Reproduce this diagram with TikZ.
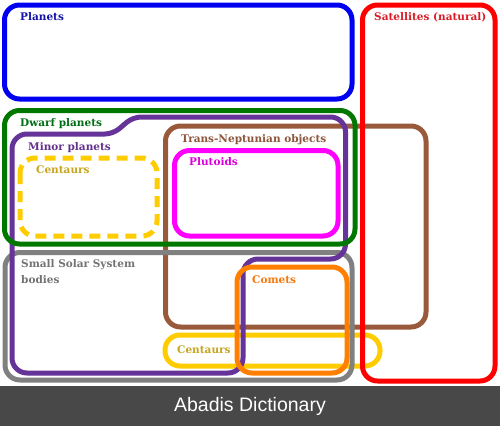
\documentclass[tikz,border=0pt]{standalone}
\usepackage{fontspec}
\setmainfont{DejaVu Serif}
\newfontfamily\bannerfont{Liberation Sans}
\definecolor{cBlue}{RGB}{0,0,240}
\definecolor{cBlueT}{RGB}{20,20,170}
\definecolor{cRed}{RGB}{255,0,0}
\definecolor{cRedT}{RGB}{215,30,40}
\definecolor{cGreen}{RGB}{0,120,0}
\definecolor{cGreenT}{RGB}{0,110,20}
\definecolor{cPurple}{RGB}{102,51,153}
\definecolor{cPurpleT}{RGB}{100,50,140}
\definecolor{cBrown}{RGB}{153,90,60}
\definecolor{cBrownT}{RGB}{140,85,60}
\definecolor{cMagenta}{RGB}{255,0,255}
\definecolor{cMagentaT}{RGB}{220,0,220}
\definecolor{cYellow}{RGB}{255,204,0}
\definecolor{cYellowT}{RGB}{200,165,30}
\definecolor{cOrange}{RGB}{255,128,0}
\definecolor{cOrangeT}{RGB}{245,120,10}
\definecolor{cGray}{RGB}{128,128,128}
\definecolor{cGrayT}{RGB}{115,115,115}
\definecolor{cBanner}{RGB}{72,72,72}
\begin{document}
\begin{tikzpicture}[x=1pt,y=-1pt,
  setbox/.style={line width=5pt,rounded corners=15pt},
  lbl/.style={anchor=base west,inner sep=0pt,font=\bfseries\fontsize{10.5}{13}\selectfont}]
\useasboundingbox (0,0) rectangle (500,426);
\fill[white] (0,0) rectangle (500,426);
% Trans-Neptunian objects
\draw[setbox,cBrown] (165.5,126) rectangle (426,327);
% Centaurs (pill)
\draw[setbox,cYellow] (165,335) rectangle (380,366);
% Small Solar System bodies
\draw[setbox,cGray] (5,252.5) rectangle (352,380);
% Minor planets
\draw[line width=5pt,cPurple,rounded corners=15pt] (12,134) [rounded corners=8pt] -- (113,134) -- (133,117) [rounded corners=15pt] -- (345.5,117) -- (345.5,259) -- (243,259) -- (243,373) -- (12,373) -- cycle;
% Comets
\draw[setbox,cOrange] (237,267) rectangle (347,373);
% Dwarf planets
\draw[setbox,cGreen] (4.5,110.5) rectangle (355,244);
% Planets
\draw[setbox,cBlue] (4.5,5) rectangle (352,99);
% Plutoids
\draw[setbox,cMagenta] (174.5,150.5) rectangle (338,236);
% Centaurs (dashed)
\draw[setbox,cYellow,dash pattern=on 11pt off 7pt] (20,158) rectangle (157,236);
% Satellites
\draw[setbox,cRed] (362.5,5) rectangle (495,381);
% Labels
\node[lbl,text=cBlueT] (tPlanets) at (20,20) {Planets};
\node[lbl,text=cRedT] (tSat) at (374,20) {Satellites (natural)};
\node[lbl,text=cGreenT] (tDwarf) at (20,126) {Dwarf planets};
\node[lbl,text=cPurpleT] (tMinor) at (28,150) {Minor planets};
\node[lbl,text=cYellowT] (tCent1) at (36,173) {Centaurs};
\node[lbl,text=cBrownT] (tTNO) at (181,142) {Trans-Neptunian objects};
\node[lbl,text=cMagentaT] (tPluto) at (189,165) {Plutoids};
\node[lbl,text=cGrayT] (tSSSB) at (21,267) {Small Solar System};
\node[lbl,text=cGrayT] (tSSSB2) at (21,283) {bodies};
\node[lbl,text=cOrangeT] (tComets) at (252,283) {Comets};
\node[lbl,text=cYellowT] (tCent2) at (177,353) {Centaurs};
% Banner
\fill[cBanner] (0,386) rectangle (500,426);
\node[text=white,font=\bannerfont\fontsize{19.5}{22}\selectfont] (banner) at (250,406) {Abadis Dictionary};
\end{tikzpicture}
\end{document}
